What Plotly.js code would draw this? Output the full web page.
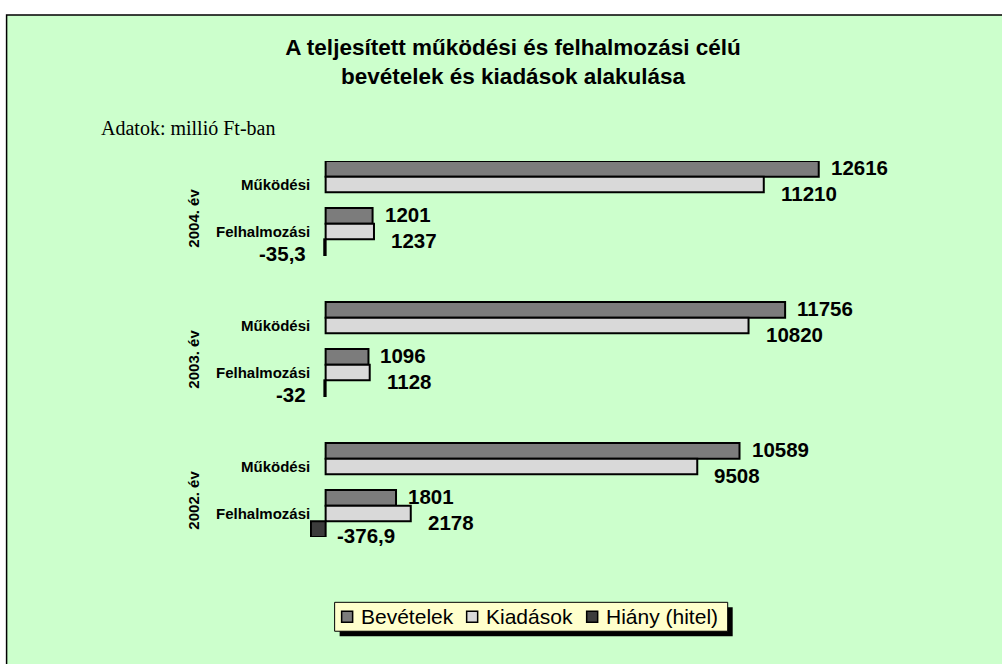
<!DOCTYPE html>
<html>
<head>
<meta charset="utf-8">
<script src="https://cdn.plot.ly/plotly-3.0.1.min.js"></script>
<style>
  html, body { margin: 0; padding: 0; background: #ffffff; }
  #chart { width: 1002px; height: 664px; }
</style>
</head>
<body>
<div id="chart"></div>
<script>
// ---- data ----
const years = ['2004. év', '2003. év', '2002. év'];
const subcats = ['Működési', 'Felhalmozási'];
const seriesNames = ['Bevételek', 'Kiadások', 'Hiány (hitel)'];
// order: 2004 Működési, 2004 Felhalmozási, 2003 Működési, 2003 Felhalmozási, 2002 Működési, 2002 Felhalmozási
const bevetelek = [12616, 1201, 11756, 1096, 10589, 1801];
const kiadasok  = [11210, 1237, 10820, 1128, 9508, 2178];
const hiany     = [null, -35.3, null, -32, null, -376.9];

const titleText = 'A teljesített működési és felhalmozási célú<br>bevételek és kiadások alakulása';
const unitText = 'Adatok: millió Ft-ban';

// ---- layout geometry ----
const W = 1002, H = 664;
const xmin = -400, xmax = 16000;
const s = 0.03908;
const L = 326 - (0 - xmin) * s;
const PW = (xmax - xmin) * s;
const R = W - L - PW;
const T = 160.5, B = 126.5;
const PH = H - T - B;
const px2x = p => (p - L) / PW;
const py2y = p => 1 - (p - T) / PH;

const FONT = 'Arial, "Liberation Sans", sans-serif';
const SERIF = '"Times New Roman", "Liberation Serif", serif';

// category positions (a blank slot between years)
const pos = [];
const labels = [];
years.forEach((yr, yi) => {
  subcats.forEach((sc, si) => {
    pos.push(yi * 3 + si);
    labels.push(sc);
  });
});

const colors = ['#7c7c7c', '#d9d9d9', '#3c3c3c'];
const seriesVals = [bevetelek, kiadasok, hiany];

const traces = seriesVals.map((vals, k) => ({
  type: 'bar',
  orientation: 'h',
  name: seriesNames[k],
  x: vals,
  y: pos,
  marker: { color: colors[k], line: { color: '#000000', width: 2 } },
  hoverinfo: 'x+name',
  showlegend: false
}));

const fmt = v => String(v).replace('.', ',');
const annotations = [];

// value labels
const slotOffset = [-1 / 3, 0, 1 / 3];
seriesVals.forEach((vals, k) => {
  vals.forEach((v, i) => {
    if (v === null) return;
    const a = {
      xref: 'x', yref: 'y', y: pos[i] + slotOffset[k],
      text: fmt(v), showarrow: false,
      font: { family: FONT, size: 20.5, color: '#000', weight: 'bold' },
      yanchor: 'middle'
    };
    if (k === 0) { a.x = v; a.xanchor = 'left'; a.xshift = 10; a.yshift = 1; }
    else if (k === 1) { a.x = v; a.xanchor = 'left'; a.xshift = 15; a.yshift = -9; }
    else {
      a.x = 0; a.yshift = -6;
      if (Math.abs(v) < 100) { a.xanchor = 'right'; a.xshift = -18; }
      else { a.xanchor = 'left'; a.xshift = 9; }
    }
    annotations.push(a);
  });
});

// category labels
pos.forEach((p, i) => {
  annotations.push({
    xref: 'x', yref: 'y', x: 0, y: p, xanchor: 'right', yanchor: 'middle', xshift: -14,
    text: labels[i], showarrow: false,
    font: { family: FONT, size: 15, color: '#000', weight: 'bold' }
  });
});

// year labels
years.forEach((yr, yi) => {
  annotations.push({
    xref: 'x', yref: 'y', x: 0, y: yi * 3 + 0.5, xanchor: 'center', yanchor: 'middle',
    xshift: -133, yshift: -10, textangle: -90,
    text: yr, showarrow: false,
    font: { family: FONT, size: 15, color: '#000', weight: 'bold' }
  });
});

// unit note
annotations.push({
  xref: 'paper', yref: 'paper', x: px2x(99), y: py2y(127), xanchor: 'left', yanchor: 'middle',
  text: unitText, showarrow: false,
  font: { family: SERIF, size: 20, color: '#000' }
});

const shapes = [
  { type: 'rect', xref: 'paper', yref: 'paper', layer: 'below',
    x0: px2x(7), x1: px2x(1010), y0: py2y(14), y1: py2y(672),
    fillcolor: '#ccffcc', line: { color: '#000000', width: 1.5 } }
];

// ---- legend (drawn as box + symbols + text) ----
const legBox = { x0: 335, x1: 728, y0: 603, y1: 632, shadow: 5 };
const legSymX = [342, 467, 587];
const legMidY = 617.5;
shapes.push({ type: 'rect', xref: 'paper', yref: 'paper', layer: 'above',
  x0: px2x(legBox.x0 + legBox.shadow), x1: px2x(legBox.x1 + legBox.shadow),
  y0: py2y(legBox.y0 + legBox.shadow), y1: py2y(legBox.y1 + legBox.shadow),
  fillcolor: '#000000', line: { width: 0 } });
shapes.push({ type: 'rect', xref: 'paper', yref: 'paper', layer: 'above',
  x0: px2x(legBox.x0), x1: px2x(legBox.x1), y0: py2y(legBox.y0), y1: py2y(legBox.y1),
  fillcolor: '#ffffcc', line: { color: '#000000', width: 1 } });
seriesNames.forEach((nm, k) => {
  const sx = legSymX[k];
  shapes.push({ type: 'rect', xref: 'paper', yref: 'paper', layer: 'above',
    x0: px2x(sx), x1: px2x(sx + 11), y0: py2y(legMidY - 5.5), y1: py2y(legMidY + 5.5),
    fillcolor: colors[k], line: { color: '#000000', width: 1.5 } });
  annotations.push({
    xref: 'paper', yref: 'paper', x: px2x(sx + 17), y: py2y(legMidY), xanchor: 'left', yanchor: 'middle',
    text: nm, showarrow: false,
    font: { family: FONT, size: 21, color: '#000' }
  });
});

const layout = {
  width: W, height: H,
  margin: { l: L, r: R, t: T, b: B, pad: 0 },
  paper_bgcolor: '#ffffff',
  plot_bgcolor: 'rgba(0,0,0,0)',
  barmode: 'group', bargap: 0, bargroupgap: 0,
  title: {
    text: titleText,
    font: { family: FONT, size: 22.5, color: '#000', weight: 'bold' },
    xref: 'container', x: 513 / W, xanchor: 'center',
    yref: 'container', y: 1 - 55 / H, yanchor: 'top'
  },
  xaxis: { range: [xmin, xmax], visible: false, fixedrange: true },
  yaxis: { range: [7.5, -0.5], visible: false, fixedrange: true },
  showlegend: false,
  annotations: annotations,
  shapes: shapes
};

Plotly.newPlot('chart', traces, layout, { displayModeBar: false, staticPlot: true });
</script>
</body>
</html>
